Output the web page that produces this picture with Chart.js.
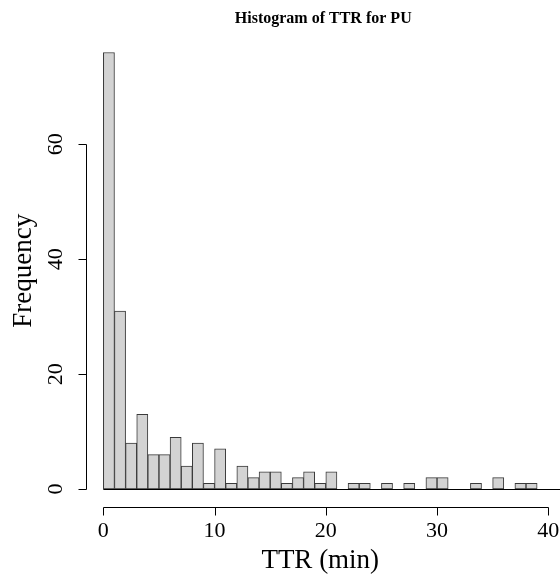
<!DOCTYPE html>
<html>
<head>
<meta charset="utf-8">
<script src="https://cdn.jsdelivr.net/npm/chart.js@4/dist/chart.umd.min.js"></script>
<style>
  html, body { margin: 0; padding: 0; background: #ffffff; }
  #wrap { width: 560px; height: 574px; }
</style>
</head>
<body>
<div id="wrap"><canvas id="c" width="560" height="574"></canvas></div>
<script>
// ---- data ----
const binStarts = [0, 1, 2, 3, 4, 5, 6, 7, 8, 9, 10, 11, 12, 13, 14, 15, 16, 17, 18, 19,
                   20, 21, 22, 23, 24, 25, 26, 27, 28, 29, 30, 31, 32, 33, 34, 35, 36, 37, 38];
const counts    = [76, 31, 8, 13, 6, 6, 9, 4, 8, 1, 7, 1, 4, 2, 3, 3, 1, 2, 3, 1,
                   3, 0, 1, 1, 0, 1, 0, 1, 0, 2, 2, 0, 0, 1, 0, 2, 0, 1, 1];
const binWidth = 1;
const xTicks = [0, 10, 20, 30, 40];
const yTicks = [0, 20, 40, 60];
const chartTitle = 'Histogram of TTR for PU';
const xTitle = 'TTR (min)';
const yTitle = 'Frequency';

// R-style axis ranges: data range extended by 4% on each side
const xMin = binStarts[0], xMax = binStarts[binStarts.length - 1] + binWidth;
const yMax = Math.max(...counts);
const xPad = (xMax - xMin) * 0.04, yPad = yMax * 0.04;

const SERIF = '"Liberation Serif", "DejaVu Serif", serif';

const rAxes = {
  id: 'rAxes',
  afterDraw(chart) {
    const ctx = chart.ctx;
    const xs = chart.scales.x, ys = chart.scales.y;
    const area = chart.chartArea;
    ctx.save();
    ctx.strokeStyle = '#000';
    ctx.fillStyle = '#000';
    ctx.lineWidth = 1;

    // baseline under the bars
    const y0 = Math.round(ys.getPixelForValue(0)) + 0.5;
    ctx.beginPath();
    ctx.moveTo(xs.getPixelForValue(0), y0);
    ctx.lineTo(chart.width, y0);
    ctx.stroke();

    // x axis
    const ax = Math.round(area.bottom) + 0.5;
    ctx.beginPath();
    ctx.moveTo(Math.round(xs.getPixelForValue(xTicks[0])) + 0.5, ax);
    ctx.lineTo(Math.round(xs.getPixelForValue(xTicks[xTicks.length - 1])) + 0.5, ax);
    xTicks.forEach(t => {
      const px = Math.round(xs.getPixelForValue(t)) + 0.5;
      ctx.moveTo(px, ax);
      ctx.lineTo(px, ax + 8);
    });
    ctx.stroke();
    ctx.font = '22px ' + SERIF;
    ctx.textAlign = 'center';
    ctx.textBaseline = 'middle';
    xTicks.forEach(t => {
      ctx.fillText(String(t), xs.getPixelForValue(t), 531);
    });

    // y axis
    const ay = Math.round(area.left) + 0.5;
    ctx.beginPath();
    ctx.moveTo(ay, Math.round(ys.getPixelForValue(yTicks[0])) + 0.5);
    ctx.lineTo(ay, Math.round(ys.getPixelForValue(yTicks[yTicks.length - 1])) + 0.5);
    yTicks.forEach(t => {
      const py = Math.round(ys.getPixelForValue(t)) + 0.5;
      ctx.moveTo(ay, py);
      ctx.lineTo(ay - 8, py);
    });
    ctx.stroke();
    yTicks.forEach(t => {
      ctx.save();
      ctx.translate(56, ys.getPixelForValue(t));
      ctx.rotate(-Math.PI / 2);
      ctx.textAlign = 'center';
      ctx.textBaseline = 'middle';
      ctx.fillText(String(t), 0, 0);
      ctx.restore();
    });

    // titles
    ctx.font = 'bold 16px ' + SERIF;
    ctx.textAlign = 'center';
    ctx.textBaseline = 'middle';
    ctx.fillText(chartTitle, (area.left + area.right) / 2 + 3, 19);

    ctx.font = '27px ' + SERIF;
    ctx.fillText(xTitle, (area.left + area.right) / 2, 561);

    ctx.save();
    ctx.translate(24, (area.top + area.bottom) / 2);
    ctx.rotate(-Math.PI / 2);
    ctx.fillText(yTitle, 0, 0);
    ctx.restore();

    ctx.restore();
  }
};

new Chart(document.getElementById('c'), {
  type: 'bar',
  data: {
    datasets: [{
      data: binStarts.map((b, i) => ({ x: b + binWidth / 2, y: counts[i] })),
      backgroundColor: '#d3d3d3',
      borderColor: '#3a3a3a',
      borderWidth: 1,
      borderSkipped: false,
      barPercentage: 1,
      categoryPercentage: 1
    }]
  },
  options: {
    responsive: false,
    animation: false,
    devicePixelRatio: 1,
    layout: { padding: { left: 86, right: 5.5, top: 35, bottom: 67.5 } },
    plugins: {
      legend: { display: false },
      title: { display: false },
      tooltip: { enabled: false }
    },
    scales: {
      x: { type: 'linear', offset: false, min: xMin - xPad, max: xMax + xPad, display: false },
      y: { type: 'linear', min: -yPad, max: yMax + yPad, display: false }
    }
  },
  plugins: [rAxes]
});
</script>
</body>
</html>
